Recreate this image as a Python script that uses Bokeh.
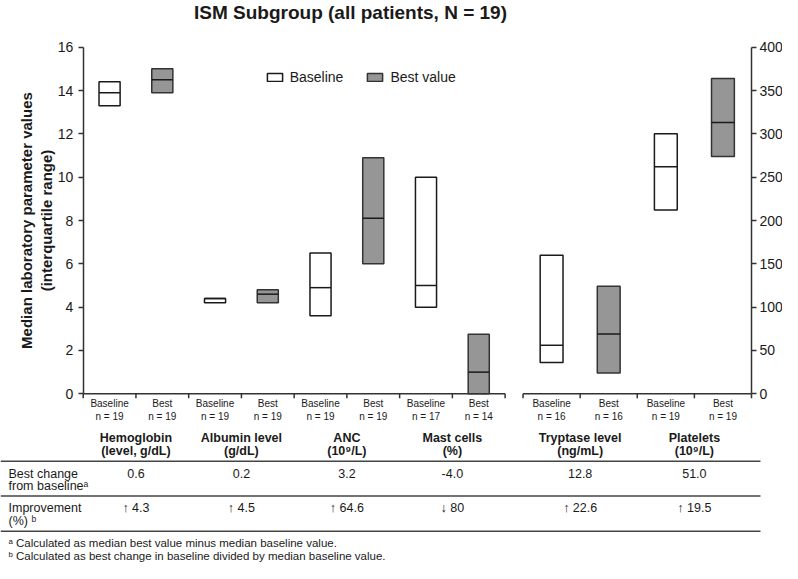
from bokeh.plotting import figure
from bokeh.models import (Range1d, LinearAxis, FixedTicker, ColumnDataSource,
                          Legend, LegendItem)
from bokeh.embed import file_html
from bokeh.resources import INLINE
from bokeh.core.properties import value

FONT = "Liberation Sans"

# ---------------- data ----------------
title_text = "ISM Subgroup (all patients, N = 19)"
param_names = ["Hemoglobin", "Albumin level", "ANC", "Mast cells", "Tryptase level", "Platelets"]
param_units = ["(level, g/dL)", "(g/dL)", "(10\u2079/L)", "(%)", "(ng/mL)", "(10\u2079/L)"]
param_axis = ["left", "left", "left", "left", "right", "right"]
n_baseline = [19, 19, 19, 17, 16, 19]
n_best = [19, 19, 19, 14, 16, 19]
baseline_q1 = [13.3, 4.2, 3.6, 4.0, 36, 212]
baseline_median = [13.9, 4.4, 4.9, 5.0, 56, 262]
baseline_q3 = [14.4, 4.4, 6.5, 10.0, 160, 300]
best_q1 = [13.9, 4.2, 6.0, 0.0, 24, 274]
best_median = [14.5, 4.6, 8.1, 1.0, 69, 313]
best_q3 = [15.0, 4.8, 10.9, 2.75, 124, 364]
best_change = ["0.6", "0.2", "3.2", "-4.0", "12.8", "51.0"]
improvement = ["\u2191 4.3", "\u2191 4.5", "\u2191 64.6", "\u2193 80", "\u2191 22.6", "\u2191 19.5"]
left_ticks = [0, 2, 4, 6, 8, 10, 12, 14, 16]
right_ticks = [0, 50, 100, 150, 200, 250, 300, 350, 400]
series_labels = ["Baseline", "Best value"]
slot_labels = ["Baseline", "Best"]
row_label_lines = [["Best change", "from baseline\u1d43"], ["Improvement", "(%) \u1d47"]]
footnotes = ["\u1d43 Calculated as median best value minus median baseline value.",
             "\u1d47 Calculated as best change in baseline divided by median baseline value."]
y_label = "Median laboratory parameter values\n(interquartile range)"

# ---------------- layout constants (pixels) ----------------
W, H = 782, 563
AX_L, AX_R = 82.7, 751.0          # canvas x of the left and right value axes
SLOT_L, SLOT_R, GAP = 1.0, 1.083, 0.34
BOX_FRAC = 0.4
Y0_PX, Y16_PX = 393.3, 46.7
TICK_LEN = 4.5
INK = "#1a1a1a"
GRAY = "#969696"
TAB_REF_TOP, TAB_REF_BOT = 437.0, 578.0
TAB_TOP, TAB_BOT = 432.0, 562.0


def ty(ref):
    return TAB_TOP + (ref - TAB_REF_TOP) * (TAB_BOT - TAB_TOP) / (TAB_REF_BOT - TAB_REF_TOP)


n_left = sum(1 for a in param_axis if a == "left")
n_right = len(param_axis) - n_left
x_end = 2 * n_left * SLOT_L + GAP + 2 * n_right * SLOT_R
ppx = (AX_R - AX_L) / x_end
ppu = (Y0_PX - Y16_PX) / (left_ticks[-1] - left_ticks[0])
y_start = -(H - Y0_PX) / ppu
y_end = Y0_PX / ppu
right_factor = right_ticks[-1] / left_ticks[-1]

slot_start, slot_width = [], []
li = ri = 0
for a in param_axis:
    if a == "left":
        slot_start.append(2 * li * SLOT_L)
        slot_width.append(SLOT_L)
        li += 1
    else:
        slot_start.append(2 * n_left * SLOT_L + GAP + 2 * ri * SLOT_R)
        slot_width.append(SLOT_R)
        ri += 1
base_x = [s + w / 2 for s, w in zip(slot_start, slot_width)]
best_x = [s + 1.5 * w for s, w in zip(slot_start, slot_width)]
pair_x = [s + w for s, w in zip(slot_start, slot_width)]

# ---------------- figure ----------------
p = figure(width=W, height=H, x_range=Range1d(-AX_L / ppx, (W - AX_L) / ppx),
           y_range=Range1d(y_start, y_end),
           x_axis_type=None, y_axis_type=None, title=None, toolbar_location=None,
           output_backend="svg", min_border=0, min_border_left=0, min_border_right=0,
           min_border_top=0, min_border_bottom=0)
p.outline_line_color = None
p.background_fill_color = "white"
p.extra_y_ranges = {"right": Range1d(y_start * right_factor, y_end * right_factor),
                    "px": Range1d(H, 0)}
p.extra_x_ranges = {"px": Range1d(0, W)}


def side_source(side, xs, q1, med, q3):
    idx = [i for i, a in enumerate(param_axis) if a == side]
    return ColumnDataSource(dict(
        left=[xs[i] - BOX_FRAC * slot_width[i] / 2 for i in idx],
        right=[xs[i] + BOX_FRAC * slot_width[i] / 2 for i in idx],
        q1=[q1[i] for i in idx], med=[med[i] for i in idx], q3=[q3[i] for i in idx]))


styles = {"Baseline": dict(fill_color="white", line_color=INK),
          "Best value": dict(fill_color=GRAY, line_color="#333333")}
legend_renderers = {}
for label, xs, q1, med, q3 in [("Baseline", base_x, baseline_q1, baseline_median, baseline_q3),
                               ("Best value", best_x, best_q1, best_median, best_q3)]:
    for side in ["left", "right"]:
        s = side_source(side, xs, q1, med, q3)
        rn = "default" if side == "left" else "right"
        r = p.quad(left="left", right="right", bottom="q1", top="q3", source=s,
                   y_range_name=rn, line_width=1.5, **styles[label])
        p.segment(x0="left", x1="right", y0="med", y1="med", source=s, y_range_name=rn,
                  line_color=INK, line_width=1.5)
        if side == "left":
            legend_renderers[label] = r

# split category axis with slot boundary ticks
split = 2 * n_left * SLOT_L
p.segment(x0=[0, split + GAP], x1=[split, x_end], y0=[0, 0], y1=[0, 0],
          line_color="#333333", line_width=1.5)
bounds = sorted(set([round(s, 6) for s in slot_start] +
                    [round(s + w, 6) for s, w in zip(slot_start, slot_width)] +
                    [round(s + 2 * w, 6) for s, w in zip(slot_start, slot_width)]))
p.segment(x0=bounds, x1=bounds, y0=[Y0_PX] * len(bounds), y1=[Y0_PX + TICK_LEN] * len(bounds),
          y_range_name="px", line_color="#333333", line_width=1.5)

cat_src = ColumnDataSource(dict(
    x=base_x + best_x,
    top=[slot_labels[0]] * len(base_x) + [slot_labels[1]] * len(best_x),
    n=["n = %d" % v for v in n_baseline + n_best]))
p.text(x="x", y=Y0_PX + 10, text="top", source=cat_src, y_range_name="px",
       text_align="center", text_baseline="middle", text_font=value(FONT),
       text_font_size="10px", text_color=INK)
p.text(x="x", y=Y0_PX + 23, text="n", source=cat_src, y_range_name="px",
       text_align="center", text_baseline="middle", text_font=value(FONT),
       text_font_size="10px", text_color=INK)

p.text(x=[350], y=[11.5], text=[title_text], x_range_name="px", y_range_name="px",
       text_align="center", text_baseline="middle", text_font=value(FONT),
       text_font_style="bold", text_font_size="19px", text_color=INK)


def style_axis(ax):
    ax.major_tick_out = 5
    ax.major_tick_in = 0
    ax.minor_tick_out = 0
    ax.minor_tick_in = 0
    ax.axis_line_color = "#333333"
    ax.axis_line_width = 1.5
    ax.major_tick_line_color = "#333333"
    ax.major_tick_line_width = 1.5
    ax.major_label_text_font = FONT
    ax.major_label_text_font_size = "14px"
    ax.major_label_text_color = INK


yl = LinearAxis(bounds=(left_ticks[0], left_ticks[-1]), ticker=FixedTicker(ticks=left_ticks),
                axis_label=y_label, fixed_location=0)
style_axis(yl)
yl.major_label_standoff = 5
yl.axis_label_text_font = FONT
yl.axis_label_text_font_style = "bold"
yl.axis_label_text_font_size = "15px"
yl.axis_label_text_color = INK
yl.axis_label_standoff = 0
p.add_layout(yl, "left")

yr = LinearAxis(y_range_name="right", bounds=(right_ticks[0], right_ticks[-1]),
                ticker=FixedTicker(ticks=right_ticks), fixed_location=x_end)
style_axis(yr)
yr.major_label_standoff = 3
p.add_layout(yr, "right")

legend = Legend(items=[LegendItem(label=l, renderers=[legend_renderers[l]]) for l in series_labels],
                orientation="horizontal", location=(264.7, 478), padding=0, margin=0, spacing=22,
                label_standoff=6, glyph_width=19, glyph_height=10, label_height=10,
                label_text_font=FONT, label_text_font_size="14px", label_text_color=INK,
                label_text_baseline="middle",
                border_line_color=None, background_fill_alpha=0)
p.add_layout(legend)

# ---------------- summary table ----------------
col_src = ColumnDataSource(dict(x=pair_x, name=param_names, unit=param_units,
                                chg=best_change, imp=improvement))
for field, ref_y, style in [("name", 443.0, "bold"), ("unit", 456.7, "bold"),
                            ("chg", 481.7, "normal"), ("imp", 519.3, "normal")]:
    p.text(x="x", y=ty(ref_y), text=field, source=col_src, y_range_name="px",
           text_align="center", text_baseline="middle", text_font=value(FONT),
           text_font_style=style, text_font_size="12.5px", text_color=INK)

row_ref_y = [[481.7, 495.0], [519.3, 532.7]]
for lines, ys in zip(row_label_lines, row_ref_y):
    p.text(x=[8] * len(lines), y=[ty(v) for v in ys], text=lines,
           x_range_name="px", y_range_name="px", text_align="left", text_baseline="middle",
           text_font=value(FONT), text_font_size="12.5px", text_color=INK)

rule_y = [ty(v) for v in [468.3, 506.0, 544.0]]
p.segment(x0=[0] * 3, x1=[760] * 3, y0=rule_y, y1=rule_y, x_range_name="px",
          y_range_name="px", line_color="#444444", line_width=1.5)

p.text(x=[8, 8], y=[ty(556.7), ty(571.0)], text=footnotes, x_range_name="px",
       y_range_name="px", text_align="left", text_baseline="middle",
       text_font=value(FONT), text_font_size="11.5px", text_color=INK)

open("out.html", "w").write(file_html(p, INLINE))
